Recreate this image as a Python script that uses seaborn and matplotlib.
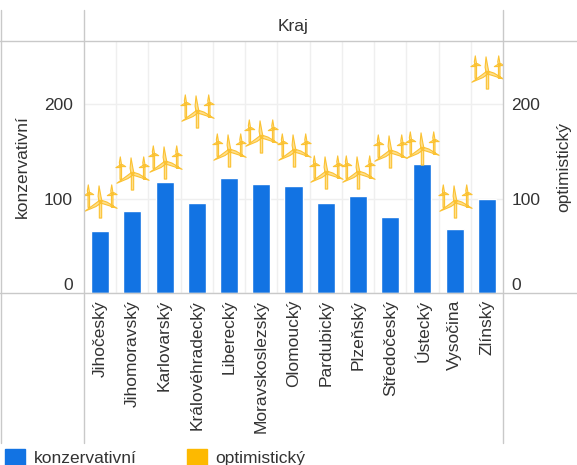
import numpy as np
import pandas as pd
import seaborn as sns
import matplotlib.pyplot as plt
from matplotlib.lines import Line2D
from matplotlib.patches import Patch
from matplotlib.path import Path

kraje = ['Jihočeský', 'Jihomoravský', 'Karlovarský', 'Královéhradecký', 'Liberecký',
         'Moravskoslezský', 'Olomoucký', 'Pardubický', 'Plzeňský', 'Středočeský',
         'Ústecký', 'Vysočina', 'Zlínský']
konzervativni = [66, 87, 117, 95, 122, 115, 113, 95, 103, 80, 137, 68, 100]
optimisticky = [98, 128, 140, 194, 152, 167, 152, 129, 129, 151, 154, 98, 235]

df = pd.DataFrame({'kraj': kraje, 'konzervativni': konzervativni, 'optimisticky': optimisticky})

BLUE = '#1273e3'
ORANGE = '#fdb900'
LINE = '#c9c9c9'
GRID = '#efefef'
TEXT = '#333333'


# three little wind turbines as one marker
def blade(cx, cy, tip_x, tip_y, w):
    c = np.array([cx, cy], dtype=float)
    t = np.array([cx + tip_x, cy + tip_y], dtype=float)
    d = t - c
    n = np.array([-d[1], d[0]]) / np.hypot(*d)
    return [c + n * w, c + d * 0.35 + n * w * 1.3, t, c + d * 0.35 - n * w * 0.6, c - n * w]


def turbine(cx, cy, tips, tower, w):
    verts, codes = [], []
    polys = [blade(cx, cy, tx, ty, w) for tx, ty in tips]
    # tower keeps its width all the way down
    polys.append([(cx - w * 0.8, cy), (cx - w * 0.8, cy - tower), (cx + w * 0.8, cy - tower), (cx + w * 0.8, cy)])
    for p in polys:
        p = [tuple(q) for q in p]
        verts += p + [p[0]]
        codes += [Path.MOVETO] + [Path.LINETO] * (len(p) - 1) + [Path.CLOSEPOLY]
    return verts, codes


big_tips = [(-1.5, 16), (17, -7), (-16, -10)]
small_tips = [(-0.5, 9), (5, -1), (-5, -2)]
v1, c1 = turbine(0, -1, big_tips, 17, 1.5)
v2, c2 = turbine(-12, 7, small_tips, 14, 1.0)
v3, c3 = turbine(12, 7, small_tips, 14, 1.0)
turbine_marker = Path(np.array(v1 + v2 + v3), c1 + c2 + c3)

sns.set_style('white')
plt.rcParams['font.family'] = ['Liberation Sans', 'DejaVu Sans']
plt.rcParams['font.size'] = 12.5

W, H = 577, 465
fig = plt.figure(figsize=(W / 100, H / 100), dpi=100)
ax = fig.add_axes([84 / W, 1 - 293 / H, (503 - 84) / W, (293 - 41) / H])

sns.barplot(data=df, x='kraj', y='konzervativni', color=BLUE, width=0.56, saturation=1, ax=ax, zorder=2)
ax.set_xlim(-0.5, 12.5)
ax.set_ylim(0, 266.7)
ax.set_yticks([0, 100, 200])
ax.set_xticks(np.arange(0.5, 12.5), minor=True)
ax.grid(True, which='minor', axis='x', color=GRID, lw=1)
ax.grid(True, which='major', axis='y', color=GRID, lw=1)
ax.grid(False, which='major', axis='x')
ax.set_axisbelow(True)
ax.tick_params(axis='x', which='both', length=0, pad=5, labelcolor=TEXT)
ax.tick_params(axis='y', length=0, pad=8, labelcolor=TEXT)
ax.set_xlabel('')
ax.set_ylabel('konzervativní', color=TEXT, labelpad=0)
ax.yaxis.set_label_coords(-0.129, 0.5)
plt.setp(ax.get_xticklabels(), rotation=90, ha='center', va='top')
ax.get_yticklabels()[0].set_verticalalignment('bottom')

ax2 = ax.twinx()
sns.scatterplot(data=df, x='kraj', y='optimisticky', marker=turbine_marker, s=640, color='#ffdf8c',
                edgecolor='#fbc233', linewidth=0.8, ax=ax2, zorder=3, legend=False)
ax2.set_ylim(0, 266.7)
ax2.set_yticks([0, 100, 200])
ax2.tick_params(axis='y', length=0, pad=6, labelcolor=TEXT)
ax2.set_ylabel('optimistický', color=TEXT, labelpad=0)
ax2.yaxis.set_label_coords(1.126, 0.5)
ax2.get_yticklabels()[0].set_verticalalignment('bottom')
ax2.set_xlabel('')

for a in (ax, ax2):
    for s in a.spines.values():
        s.set_visible(False)

ax.set_title('Kraj', color=TEXT, fontsize=12.5, pad=7)

# frame lines run past the plot area
for xs, ys in [((0, W), (41, 41)), ((0, W), (293, 293)), ((84, 84), (10, 443)), ((503, 503), (10, 443)),
               ((0.5, 0.5), (10, 443))]:
    fig.add_artist(Line2D([x / W for x in xs], [1 - y / H for y in ys], color=LINE, lw=1, zorder=1))

handles = [Patch(color=BLUE, label='konzervativní'), Patch(color=ORANGE, label='optimistický')]
fig.legend(handles=handles, loc='lower left', bbox_to_anchor=(-0.012, -0.028), ncol=2, frameon=False,
           fontsize=12.5, labelcolor=TEXT, handlelength=1.15, handleheight=1.1, handletextpad=0.5,
           columnspacing=2.9, borderpad=0.2)

fig.savefig('out.png', dpi=100)
